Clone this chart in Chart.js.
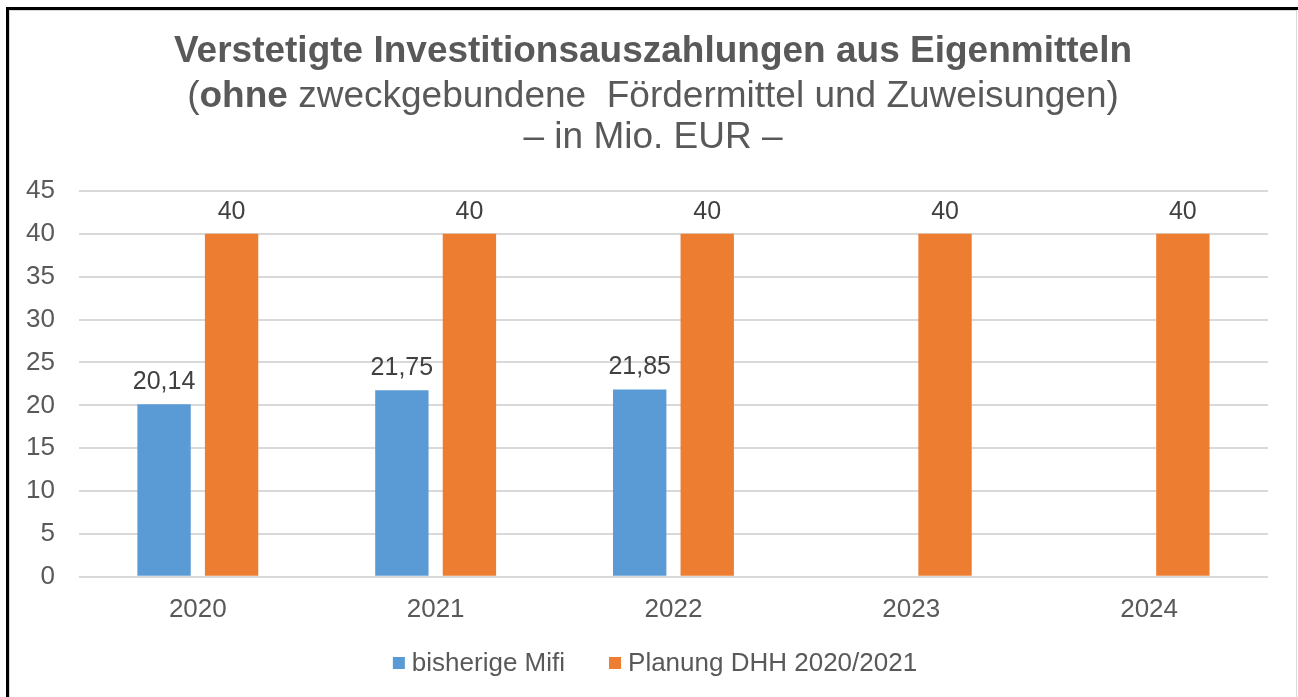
<!DOCTYPE html>
<html>
<head>
<meta charset="utf-8">
<script src="https://cdn.jsdelivr.net/npm/chart.js@4/dist/chart.umd.min.js"></script>
<style>
  html, body { margin: 0; padding: 0; background: #fff; }
  body { width: 1298px; height: 697px; position: relative; overflow: hidden; }
  #outer { position: absolute; left: 6px; top: 7px; width: 1300px; height: 700px;
           border-top: 3px solid #000; border-left: 3px solid #000; }
  #inner { position: absolute; left: 9px; top: 10px; width: 1286px; height: 700px;
           border: 1px solid #d9d9d9; border-bottom: none; }
  #chart { position: absolute; left: 0; top: 0; }
</style>
</head>
<body>
<div id="outer"></div>
<div id="inner"></div>
<canvas id="chart" width="1298" height="697"></canvas>
<script>
// chart data
var years = ['2020', '2021', '2022', '2023', '2024'];
var mifi = [20.14, 21.75, 21.85, null, null];
var planung = [40, 40, 40, 40, 40];
var seriesNames = ['bisherige Mifi', 'Planung DHH 2020/2021'];
var yTicks = [0, 5, 10, 15, 20, 25, 30, 35, 40, 45];

var FONT = "Arial, 'Liberation Sans', sans-serif";
var textGray = '#595959';

// title drawn by hand because of the bold "ohne"
var titlePlugin = {
    id: 'titleLines',
    afterDraw: function(chart) {
        var ctx = chart.ctx;
        var cx = 653;
        ctx.save();
        ctx.fillStyle = textGray;
        ctx.textBaseline = 'middle';
        ctx.textAlign = 'center';
        ctx.font = 'bold 37px ' + FONT;
        ctx.fillText('Verstetigte Investitionsauszahlungen aus Eigenmitteln', cx, 52);

        // second line, mixed weights
        var parts = [
            ['(', 'normal'],
            ['ohne', 'bold'],
            [' zweckgebundene  Fördermittel und Zuweisungen)', 'normal']
        ];
        var total = 0;
        parts.forEach(function(p) {
            ctx.font = p[1] + ' 37px ' + FONT;
            total += ctx.measureText(p[0]).width;
        });
        var x = cx - total / 2;
        ctx.textAlign = 'left';
        parts.forEach(function(p) {
            ctx.font = p[1] + ' 37px ' + FONT;
            ctx.fillText(p[0], x, 97);
            x += ctx.measureText(p[0]).width;
        });

        ctx.textAlign = 'center';
        ctx.font = '37px ' + FONT;
        ctx.fillText('\u2013 in Mio. EUR \u2013', cx, 138);
        ctx.restore();
    }
};

// value labels above bars
var valueLabels = {
    id: 'valueLabels',
    afterDatasetsDraw: function(chart) {
        var ctx = chart.ctx;
        ctx.save();
        ctx.font = '25px ' + FONT;
        ctx.fillStyle = '#404040';
        ctx.textAlign = 'center';
        ctx.textBaseline = 'middle';
        chart.data.datasets.forEach(function(ds, i) {
            chart.getDatasetMeta(i).data.forEach(function(bar, j) {
                var v = ds.data[j];
                if (v === null || v === undefined) return;
                var txt = String(v).replace('.', ',');
                ctx.fillText(txt, bar.x, bar.y - 22);
            });
        });
        ctx.restore();
    }
};

// legend at the bottom, centred
var legendPlugin = {
    id: 'bottomLegend',
    afterDraw: function(chart) {
        var ctx = chart.ctx;
        var y = 663;
        var box = 12, gapBox = 7, gapItem = 44;
        ctx.save();
        ctx.font = '26px ' + FONT;
        ctx.textBaseline = 'middle';
        var items = chart.data.datasets.map(function(ds) {
            return { text: ds.label, color: ds.backgroundColor, w: ctx.measureText(ds.label).width };
        });
        var total = 0;
        items.forEach(function(it, i) {
            total += box + gapBox + it.w + (i > 0 ? gapItem : 0);
        });
        var x = 655 - total / 2;
        items.forEach(function(it, i) {
            if (i > 0) x += gapItem;
            ctx.fillStyle = it.color;
            ctx.fillRect(x, y - box / 2, box, box);
            x += box + gapBox;
            ctx.fillStyle = textGray;
            ctx.fillText(it.text, x, y + 1);
            x += it.w;
        });
        ctx.restore();
    }
};

var ctx = document.getElementById('chart').getContext('2d');
var chart = new Chart(ctx, {
    type: 'bar',
    data: {
        labels: years,
        datasets: [{
            label: seriesNames[0],
            data: mifi,
            backgroundColor: '#5B9BD5',
            categoryPercentage: 0.568,
            barPercentage: 0.79
        }, {
            label: seriesNames[1],
            data: planung,
            backgroundColor: '#ED7D31',
            categoryPercentage: 0.568,
            barPercentage: 0.79
        }]
    },
    options: {
        responsive: false,
        animation: false,
        layout: {
            padding: { top: 191, left: 2, right: 30, bottom: 63 }
        },
        plugins: {
            legend: { display: false },
            title: { display: false },
            tooltip: { enabled: false }
        },
        scales: {
            x: {
                grid: { display: false },
                border: { display: false },
                ticks: {
                    color: textGray,
                    font: { size: 26, family: FONT },
                    padding: 9
                }
            },
            y: {
                min: 0,
                max: 45,
                afterBuildTicks: function(axis) {
                    axis.ticks = yTicks.map(function(v) { return { value: v }; });
                },
                grid: { color: '#d9d9d9', lineWidth: 2, drawTicks: false },
                border: { display: false },
                ticks: {
                    color: textGray,
                    font: { size: 26, family: FONT },
                    padding: 24
                }
            }
        }
    },
    plugins: [titlePlugin, valueLabels, legendPlugin]
});
</script>
</body>
</html>
